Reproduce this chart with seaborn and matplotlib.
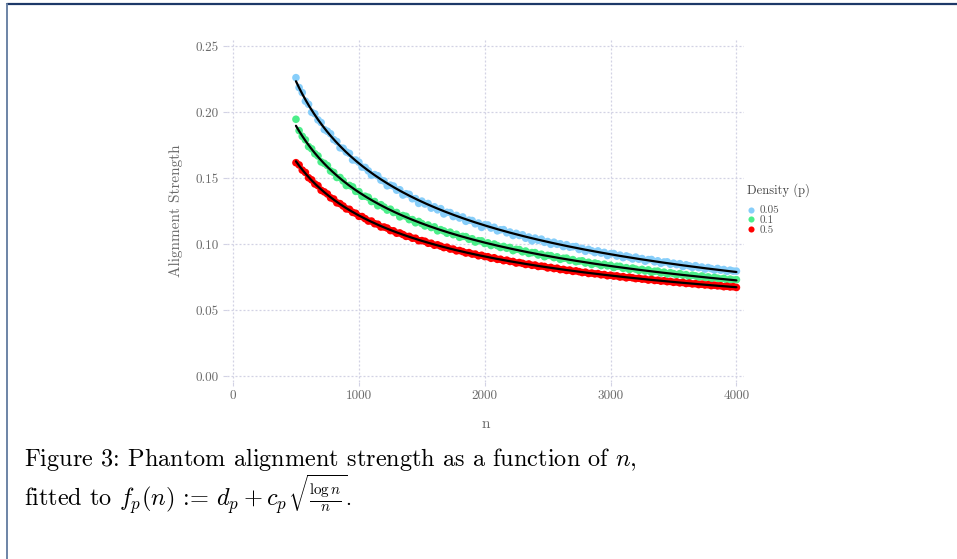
import numpy as np
import pandas as pd
import matplotlib
matplotlib.use("Agg")
import matplotlib.pyplot as plt
from matplotlib.lines import Line2D
import seaborn as sns

# ---- data -------------------------------------------------------------
n_values = np.arange(500, 4001, 25)

strength_p005 = [
    0.2260, 0.2185, 0.2147, 0.2082, 0.2058, 0.1998, 0.1986, 0.1940, 0.1920, 0.1867,
    0.1854, 0.1835, 0.1791, 0.1776, 0.1729, 0.1725, 0.1697, 0.1686, 0.1637, 0.1636,
    0.1620, 0.1583, 0.1580, 0.1554, 0.1521, 0.1526, 0.1517, 0.1484, 0.1477, 0.1441,
    0.1446, 0.1439, 0.1408, 0.1411, 0.1371, 0.1381, 0.1376, 0.1343, 0.1344, 0.1308,
    0.1325, 0.1303, 0.1307, 0.1272, 0.1282, 0.1259, 0.1268, 0.1228, 0.1240, 0.1238,
    0.1208, 0.1217, 0.1197, 0.1205, 0.1172, 0.1181, 0.1178, 0.1153, 0.1159, 0.1126,
    0.1146, 0.1144, 0.1121, 0.1127, 0.1100, 0.1108, 0.1109, 0.1085, 0.1091, 0.1065,
    0.1081, 0.1065, 0.1070, 0.1044, 0.1053, 0.1024, 0.1045, 0.1028, 0.1037, 0.1013,
    0.1019, 0.0998, 0.1014, 0.0998, 0.1002, 0.0981, 0.0995, 0.0976, 0.0980, 0.0981,
    0.0959, 0.0967, 0.0945, 0.0960, 0.0949, 0.0935, 0.0948, 0.0931, 0.0937, 0.0913,
    0.0927, 0.0928, 0.0909, 0.0916, 0.0897, 0.0910, 0.0901, 0.0887, 0.0901, 0.0885,
    0.0890, 0.0870, 0.0882, 0.0883, 0.0865, 0.0873, 0.0854, 0.0864, 0.0865, 0.0847,
    0.0855, 0.0844, 0.0851, 0.0830, 0.0843, 0.0835, 0.0823, 0.0836, 0.0821, 0.0826,
    0.0810, 0.0822, 0.0814, 0.0803, 0.0815, 0.0802, 0.0807, 0.0793, 0.0802, 0.0795,
    0.0795,
]

strength_p01 = [
    0.1945, 0.1859, 0.1816, 0.1789, 0.1738, 0.1721, 0.1684, 0.1667, 0.1622, 0.1611,
    0.1594, 0.1553, 0.1542, 0.1504, 0.1504, 0.1478, 0.1443, 0.1444, 0.1433, 0.1399,
    0.1397, 0.1362, 0.1362, 0.1354, 0.1322, 0.1322, 0.1290, 0.1298, 0.1280, 0.1257,
    0.1264, 0.1239, 0.1239, 0.1206, 0.1216, 0.1210, 0.1185, 0.1185, 0.1161, 0.1171,
    0.1155, 0.1137, 0.1144, 0.1125, 0.1130, 0.1100, 0.1109, 0.1099, 0.1082, 0.1090,
    0.1071, 0.1074, 0.1051, 0.1058, 0.1056, 0.1036, 0.1040, 0.1015, 0.1025, 0.1024,
    0.1004, 0.1009, 0.0989, 0.1000, 0.0988, 0.0974, 0.0982, 0.0968, 0.0974, 0.0950,
    0.0960, 0.0958, 0.0941, 0.0947, 0.0929, 0.0935, 0.0935, 0.0917, 0.0923, 0.0904,
    0.0914, 0.0912, 0.0897, 0.0903, 0.0884, 0.0892, 0.0893, 0.0876, 0.0882, 0.0866,
    0.0871, 0.0873, 0.0856, 0.0862, 0.0845, 0.0856, 0.0850, 0.0837, 0.0847, 0.0835,
    0.0839, 0.0822, 0.0832, 0.0831, 0.0816, 0.0821, 0.0807, 0.0818, 0.0810, 0.0800,
    0.0808, 0.0796, 0.0804, 0.0785, 0.0794, 0.0795, 0.0781, 0.0787, 0.0773, 0.0783,
    0.0776, 0.0766, 0.0776, 0.0764, 0.0768, 0.0754, 0.0764, 0.0759, 0.0749, 0.0758,
    0.0747, 0.0751, 0.0738, 0.0747, 0.0741, 0.0734, 0.0740, 0.0727, 0.0734, 0.0727,
    0.0730,
]

strength_p05 = [
    0.1616, 0.1599, 0.1560, 0.1542, 0.1502, 0.1486, 0.1455, 0.1442, 0.1407, 0.1395,
    0.1379, 0.1350, 0.1341, 0.1312, 0.1306, 0.1288, 0.1266, 0.1263, 0.1240, 0.1233,
    0.1210, 0.1208, 0.1192, 0.1174, 0.1174, 0.1154, 0.1150, 0.1129, 0.1129, 0.1121,
    0.1102, 0.1100, 0.1082, 0.1084, 0.1072, 0.1058, 0.1058, 0.1044, 0.1044, 0.1025,
    0.1026, 0.1021, 0.1006, 0.1006, 0.0991, 0.0994, 0.0984, 0.0973, 0.0976, 0.0962,
    0.0962, 0.0948, 0.0951, 0.0943, 0.0932, 0.0935, 0.0924, 0.0924, 0.0911, 0.0915,
    0.0905, 0.0904, 0.0892, 0.0896, 0.0884, 0.0885, 0.0874, 0.0878, 0.0868, 0.0868,
    0.0856, 0.0860, 0.0854, 0.0845, 0.0849, 0.0839, 0.0841, 0.0830, 0.0833, 0.0830,
    0.0819, 0.0823, 0.0814, 0.0817, 0.0806, 0.0808, 0.0800, 0.0803, 0.0793, 0.0797,
    0.0791, 0.0784, 0.0787, 0.0777, 0.0780, 0.0774, 0.0776, 0.0767, 0.0769, 0.0760,
    0.0764, 0.0757, 0.0759, 0.0750, 0.0753, 0.0744, 0.0749, 0.0744, 0.0738, 0.0741,
    0.0734, 0.0735, 0.0727, 0.0732, 0.0724, 0.0726, 0.0719, 0.0722, 0.0715, 0.0717,
    0.0710, 0.0713, 0.0706, 0.0709, 0.0701, 0.0704, 0.0698, 0.0700, 0.0693, 0.0696,
    0.0690, 0.0692, 0.0685, 0.0688, 0.0683, 0.0684, 0.0677, 0.0680, 0.0675, 0.0677,
    0.0671,
]

densities = ["0.05", "0.1", "0.5"]
density_colors = ["#87CEFA", "#4CEE8A", "#FF0000"]
x_ticks = [0, 1000, 2000, 3000, 4000]
y_ticks = [0.00, 0.05, 0.10, 0.15, 0.20, 0.25]

series = dict(zip(densities, [strength_p005, strength_p01, strength_p05]))
palette = dict(zip(densities, density_colors))

df = pd.concat(
    [pd.DataFrame({"n": n_values, "strength": vals, "density": d})
     for d, vals in series.items()],
    ignore_index=True,
)

# ---- style ------------------------------------------------------------
sns.set_theme(style="white")
plt.rcParams["font.family"] = ["cmr10", "DejaVu Serif"]
plt.rcParams["mathtext.fontset"] = "cm"
plt.rcParams["axes.formatter.use_mathtext"] = True

grid_color = "#d2d2e4"
text_gray = "#6a6a6a"

fig = plt.figure(figsize=(9.57, 5.59), dpi=100)
ax = fig.add_axes([0.2372, 0.3166, 0.7774 - 0.2372, 0.9284 - 0.3166])

sns.scatterplot(data=df, x="n", y="strength", hue="density", palette=palette,
                s=30, linewidth=0, ax=ax, legend=False, zorder=3)

# least-squares fit of f_p(n) = d_p + c_p * sqrt(log n / n)
n_fit = np.linspace(n_values.min(), n_values.max(), 400)
basis = np.sqrt(np.log(n_values) / n_values)
basis_fit = np.sqrt(np.log(n_fit) / n_fit)
for d, vals in series.items():
    A = np.column_stack([np.ones_like(basis), basis])
    (d_p, c_p), *_ = np.linalg.lstsq(A, np.asarray(vals), rcond=None)
    sns.lineplot(x=n_fit, y=d_p + c_p * basis_fit, color="black",
                 linewidth=1.6, ax=ax, zorder=4)

ax.set_xlim(-48, 4060)
ax.set_ylim(-0.0045, 0.2545)
ax.set_xticks(x_ticks)
ax.set_xticklabels([str(t) for t in x_ticks])
ax.set_yticks(y_ticks)
ax.set_yticklabels([f"{t:.2f}" for t in y_ticks])
ax.grid(True, color=grid_color, linestyle=(0, (1.6, 1.6)), linewidth=0.9)
for sp in ax.spines.values():
    sp.set_visible(False)
ax.tick_params(axis="both", length=3, width=0.8, color=grid_color,
               labelcolor=text_gray, labelsize=9.5, pad=3, left=True, bottom=True)
ax.set_xlabel("n", color=text_gray, fontsize=11, labelpad=11)
ax.set_ylabel("Alignment Strength", color=text_gray, fontsize=11, labelpad=9)

handles = [Line2D([0], [0], marker="o", linestyle="none", markersize=4.4,
                  markerfacecolor=c, markeredgewidth=0) for c in density_colors]
leg = ax.legend(handles, densities, title="Density (p)", loc="upper left",
                bbox_to_anchor=(1.0, 0.590), frameon=False, fontsize=8,
                title_fontsize=9, handlelength=0.6, handletextpad=0.5,
                labelspacing=0.0, borderaxespad=0.0, borderpad=0.3)
leg.get_title().set_color("#444444")
leg._legend_box.align = "left"
leg._legend_box.sep = 6
for t in leg.get_texts():
    t.set_color("#555555")

# caption beneath the chart
fig_w_px = fig.get_figwidth() * fig.dpi
fig.text(24 / 957, 1 - 466 / 559,
         r"Figure 3: Phantom alignment strength as a function of $n$,",
         fontsize=17.5, color="black", va="baseline", ha="left")
cap_head = fig.text(24 / 957, 1 - 506 / 559,
                    r"fitted to $f_p(n)$ := $d_p + c_p$",
                    fontsize=17.5, color="black", va="baseline", ha="left")
fig.canvas.draw()
head_end = cap_head.get_window_extent(fig.canvas.get_renderer()).x1
fig.text(head_end / fig_w_px + 0.001, 1 - 506 / 559,
         r"$\sqrt{\frac{\log n}{n}}$.",
         fontsize=15.5, color="black", va="baseline", ha="left")

# page frame lines
fig.add_artist(Line2D([7 / 957, 1.0], [1 - 4 / 559, 1 - 4 / 559],
                      transform=fig.transFigure, color="#1d3868", linewidth=1.6))
fig.add_artist(Line2D([7.5 / 957, 7.5 / 957], [0.0, 1 - 4 / 559],
                      transform=fig.transFigure, color="#6c84a6", linewidth=1.4))

fig.savefig("out.png", dpi=100, facecolor="white")
